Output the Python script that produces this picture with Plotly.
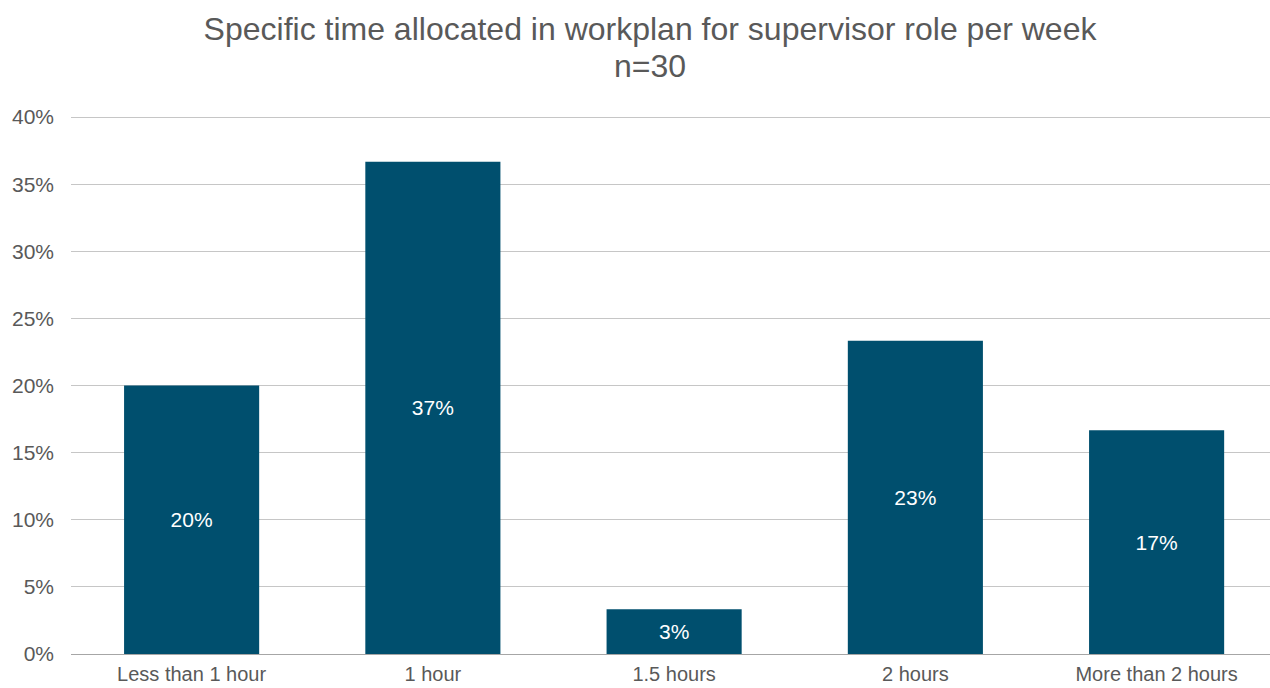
import plotly.graph_objects as go

categories = ["Less than 1 hour", "1 hour", "1.5 hours", "2 hours", "More than 2 hours"]
values = [0.20, 0.3667, 0.0333, 0.2333, 0.1667]
labels = ["20%", "37%", "3%", "23%", "17%"]
tick_vals = [0, 0.05, 0.10, 0.15, 0.20, 0.25, 0.30, 0.35, 0.40]
tick_text = ["0%", "5%", "10%", "15%", "20%", "25%", "30%", "35%", "40%"]
title_line1 = "Specific time allocated in workplan for supervisor role per week"
title_line2 = "n=30"

fig = go.Figure(go.Bar(
    x=categories, y=values, text=labels, textposition="inside",
    insidetextanchor="middle",
    textfont=dict(color="white", size=21, family="Liberation Sans, Arial"),
    marker=dict(color="#004F6E", line=dict(width=0)),
    width=0.56,
))

fig.update_layout(
    width=1270, height=688,
    margin=dict(l=71, r=0, t=116, b=34, autoexpand=False),
    paper_bgcolor="white", plot_bgcolor="white",
    font=dict(family="Liberation Sans, Arial", color="#595959", size=21),
    title=dict(text=title_line1,
               x=650 / 1270, xanchor="center", y=1 - 29 / 688, yanchor="middle",
               font=dict(size=32, color="#595959")),
    annotations=[dict(text=title_line2, xref="paper", yref="paper",
                      x=(650 - 71) / 1199, y=1 + (116 - 66) / 538,
                      xanchor="center", yanchor="middle",
                      showarrow=False, font=dict(size=32, color="#595959"))],
    showlegend=False,
)
fig.update_xaxes(range=[-0.5, 4.47], showline=True, linecolor="#a6a6a6", linewidth=1,
                 ticks="", ticklabelstandoff=2, automargin=False,
                 tickfont=dict(size=20, color="#595959"), showgrid=False)
fig.update_yaxes(range=[0, 0.4008], tickvals=tick_vals, ticktext=tick_text,
                 showgrid=True, gridcolor="#c6c6c6", gridwidth=1, zeroline=False,
                 ticks="", ticklabelstandoff=16, automargin=False,
                 tickfont=dict(size=21, color="#595959"), showline=False)

fig.write_html("out.html")
